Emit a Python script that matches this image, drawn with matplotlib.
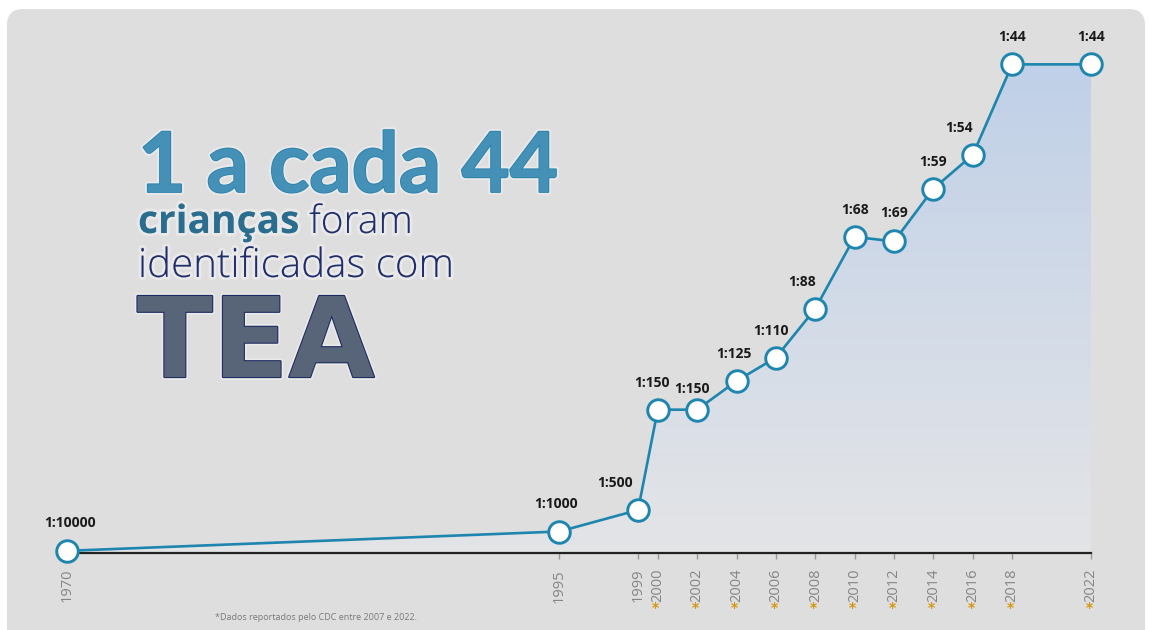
import numpy as np
import matplotlib.pyplot as plt
import matplotlib.patheffects as pe
from matplotlib.patches import FancyBboxPatch

# Data: autism prevalence estimates (1 in N children)
years = [1970, 1995, 1999, 2000, 2002, 2004, 2006, 2008, 2010, 2012, 2014, 2016, 2018, 2022]
ratio_n = [10000, 1000, 500, 150, 150, 125, 110, 88, 68, 69, 59, 54, 44, 44]
cdc_years = [2000, 2002, 2004, 2006, 2008, 2010, 2012, 2014, 2016, 2018, 2022]

labels = ["1:%d" % n for n in ratio_n]
prev = [1000.0 / n for n in ratio_n]  # cases per 1000 children

# small nudges for the value labels (pixels)
label_dx = [3, -3, -23, -6, -5, -3, -5, -13, 0, 0, 0, -14, 0, 0]
label_dy = [28, 28, 27, 27, 21, 27, 27, 27, 27, 28, 27, 27, 27, 27]

line_color = "#1d85ae"
px = 72 / 100  # points per pixel

fig = plt.figure(figsize=(11.49, 6.30), dpi=100, facecolor="white")

# grey rounded card
card = FancyBboxPatch((0.07, -0.5), 11.38, 6.71, boxstyle="round,pad=0,rounding_size=0.16",
                      transform=fig.dpi_scale_trans, facecolor="#dedede", edgecolor="none", zorder=-1)
fig.patches.append(card)

ax = fig.add_axes([0, 0, 1, 1])
ax.set_zorder(2)
ax.patch.set_alpha(0)

# gradient fill under the curve
ny, nx = 200, 50
t = np.linspace(0, 1, ny)[:, None, None] * np.ones((1, nx, 1))
bottom_c = np.array([0.89, 0.895, 0.905])
top_c = np.array([0.75, 0.815, 0.91])
rgb = bottom_c + (top_c - bottom_c) * t ** 1.1
img = np.concatenate([rgb, np.ones((ny, nx, 1))], axis=2)
im = ax.imshow(img, extent=[years[0], years[-1], 0, max(prev)], origin="lower",
               aspect="auto", zorder=1, interpolation="bilinear")
poly = ax.fill_between(years, 0, prev, facecolor="none", edgecolor="none")
im.set_clip_path(poly.get_paths()[0], transform=ax.transData)

ax.plot(years, prev, color=line_color, lw=1.9, zorder=3,
        marker="o", ms=15.5, mfc="white", mec=line_color, mew=2.1)

for x, y, lab, dx, dy in zip(years, prev, labels, label_dx, label_dy):
    ax.annotate(lab, (x, y), xytext=(dx * px, dy * px), textcoords="offset points",
                ha="center", va="center", fontsize=10, fontweight="bold",
                family="Open Sans", color="#1a1a1a", zorder=4)

# axis
ax.set_xlim(1966.598, 2024.946)
ax.set_ylim(-3.581, 25.721)
for s in ["left", "right", "top"]:
    ax.spines[s].set_visible(False)
ax.spines["bottom"].set_position(("data", 0))
ax.spines["bottom"].set_bounds(years[0], years[-1])
ax.spines["bottom"].set_color("#222222")
ax.spines["bottom"].set_linewidth(1.6)
ax.spines["bottom"].set_zorder(2.5)
ax.set_yticks([])
ax.set_xticks(years)
ax.set_xticklabels([str(y) for y in years], rotation=90, color="#858585",
                   fontsize=10.5, family="Open Sans")
ax.tick_params(axis="x", direction="out", length=4.5, width=1, color="#9a9a9a", pad=7)

for y in cdc_years:
    ax.text(y - 0.1, -2.56, "*", ha="center", va="center", fontsize=10,
            fontweight="bold", color="#d9950f")

ax.text(215 / 1149, 1 - 617 / 630, "*Dados reportados pelo CDC entre 2007 e 2022.",
        transform=ax.transAxes, fontsize=6.5, color="#7a7a7a", family="Open Sans",
        va="center", ha="left")

# headline text
glow = [pe.Stroke(linewidth=4, foreground="#f2f2f2", alpha=0.6)]
ax.text(0.1201, 1 - 192 / 630, "1 a cada 44", transform=ax.transAxes,
        fontsize=60, fontweight="bold", family="Lato", color="#4590b6", va="baseline",
        path_effects=glow + [pe.Stroke(linewidth=1.3, foreground="#2a83ae"), pe.Normal()])
t1 = ax.text(0.1201, 1 - 233 / 630, "crianças", transform=ax.transAxes, fontsize=28,
             fontweight="bold", family="Open Sans", color="#2b6d8e", va="baseline",
             path_effects=glow + [pe.Normal()])
ax.annotate(" foram", xy=(1, 0), xycoords=t1, fontsize=28, fontweight="light",
            family="Open Sans", color="#1f2d6b", va="bottom", ha="left",
            path_effects=glow + [pe.Normal()])
ax.text(0.1201, 1 - 277 / 630, "identificadas com", transform=ax.transAxes, fontsize=29,
        fontweight="light", family="Open Sans", color="#1f2d6b", va="baseline",
        path_effects=glow + [pe.Normal()])
ax.text(0.1192, 1 - 377 / 630, "TEA", transform=ax.transAxes, fontsize=80,
        fontweight="bold", family="DejaVu Sans", color="#586477", va="baseline",
        path_effects=glow + [pe.Stroke(linewidth=1.6, foreground="#1f2d63"), pe.Normal()])

fig.savefig("out.png", dpi=100, facecolor="white")
